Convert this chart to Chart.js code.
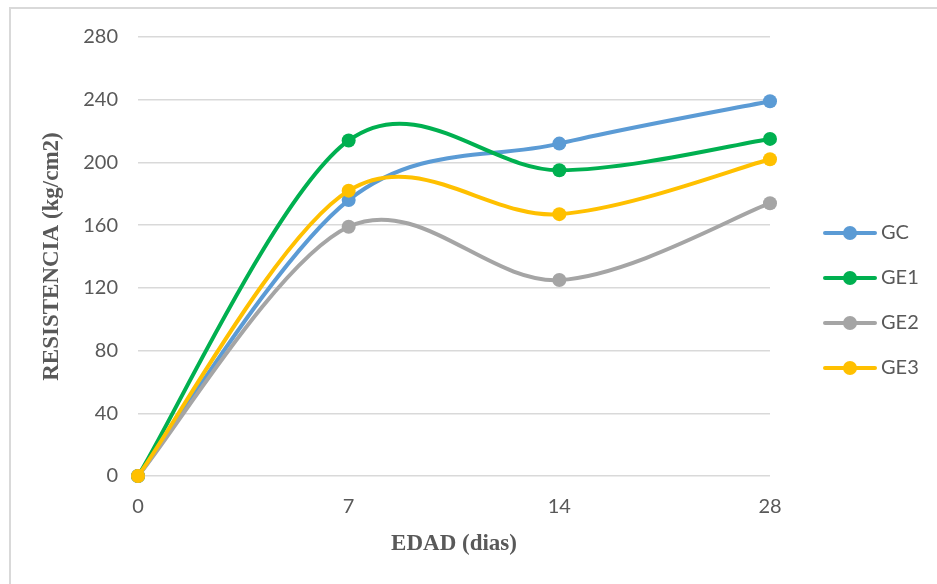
<!DOCTYPE html>
<html>
<head>
<meta charset="utf-8">
<script src="https://cdn.jsdelivr.net/npm/chart.js@4.4.1/dist/chart.umd.min.js"></script>
<style>
  html, body { margin: 0; padding: 0; background: #fff; overflow: hidden; }
  #wrap { position: relative; width: 937px; height: 584px; overflow: hidden; }
  #frame { position: absolute; left: 9px; top: 7px; width: 1000px; height: 1000px;
           border: 2px solid #d9d9d9; box-sizing: border-box; }
  canvas { position: absolute; left: 0; top: 0; }
</style>
</head>
<body>
<div id="wrap">
  <div id="frame"></div>
  <canvas id="chart" width="937" height="584"></canvas>
</div>
<script>
// Age of the specimens (days)
const ages = ['0', '7', '14', '28'];

// Compressive strength, kg/cm2
const gc  = [0, 176, 212, 239];
const ge1 = [0, 214, 195, 215];
const ge2 = [0, 159, 125, 174];
const ge3 = [0, 182, 167, 202];

const seriesNames = ['GC', 'GE1', 'GE2', 'GE3'];
const seriesColors = ['#5B9BD5', '#00B050', '#A5A5A5', '#FFC000'];

const TEXT = '#595959';
const TICK_FONT = { family: 'Lato', size: 20 };
const TITLE_FONT = { family: 'Liberation Serif', size: 23, weight: 'bold' };

// Legend spacing on the right-hand side
const LEG_PAD = 25, LEG_BOX = 76, PLOT_RIGHT = 770;

// Legend icon: short line with a round marker in the middle
function legendIcon(color) {
  const c = document.createElement('canvas');
  c.width = 88; c.height = 18;
  const g = c.getContext('2d');
  g.strokeStyle = color; g.lineWidth = 4; g.lineCap = 'round';
  g.beginPath(); g.moveTo(36, 9); g.lineTo(86, 9); g.stroke();
  g.fillStyle = color;
  g.beginPath(); g.arc(61, 9, 7, 0, Math.PI * 2); g.fill();
  return c;
}
const icons = seriesColors.map(legendIcon);

const mctx = document.createElement('canvas').getContext('2d');
mctx.font = TICK_FONT.size + 'px ' + TICK_FONT.family;
const textW = Math.max(...seriesNames.map(n => mctx.measureText(n).width));
const legendW = LEG_PAD + LEG_BOX + TICK_FONT.size / 2 + textW + 10;
const padRight = Math.max(0, 937 - PLOT_RIGHT - legendW);

// Catmull-Rom style smoothing (control points at one sixth of the neighbour span)
const smoothCurves = {
  id: 'smoothCurves',
  beforeDatasetsDraw(chart) {
    chart.getSortedVisibleDatasetMetas().forEach(meta => {
      const line = meta.dataset;
      if (!line) return;
      line.updateControlPoints(chart.chartArea, 'x');
      const pts = meta.data;
      pts.forEach((p, i) => {
        const prev = pts[i - 1] || p, next = pts[i + 1] || p;
        const dx = (next.x - prev.x) / 6, dy = (next.y - prev.y) / 6;
        p.cp1x = p.x - dx; p.cp1y = p.y - dy;
        p.cp2x = p.x + dx; p.cp2y = p.y + dy;
      });
    });
  }
};

const values = [gc, ge1, ge2, ge3];
const datasets = values.map((v, i) => ({
  label: seriesNames[i],
  data: v,
  borderColor: seriesColors[i],
  backgroundColor: seriesColors[i],
  borderWidth: 4,
  pointRadius: 7,
  pointHoverRadius: 7,
  pointBorderWidth: 0,
  tension: 0.4,
  clip: false,
  order: values.length - i
}));

new Chart(document.getElementById('chart'), {
  type: 'line',
  data: { labels: ages, datasets },
  plugins: [smoothCurves],
  options: {
    responsive: false,
    animation: false,
    events: [],
    layout: { padding: { top: 37, bottom: 20, left: 0, right: padRight } },
    plugins: {
      tooltip: { enabled: false },
      legend: {
        position: 'right',
        labels: {
          usePointStyle: true,
          pointStyleWidth: LEG_BOX,
          padding: LEG_PAD,
          color: TEXT,
          font: TICK_FONT,
          sort: (a, b) => a.datasetIndex - b.datasetIndex,
          generateLabels(chart) {
            const items = Chart.defaults.plugins.legend.labels.generateLabels(chart);
            items.forEach(it => { it.pointStyle = icons[it.datasetIndex]; });
            return items;
          }
        }
      }
    },
    scales: {
      x: {
        offset: false,
        grid: { display: false },
        border: { display: false },
        ticks: { color: TEXT, font: TICK_FONT, padding: 11, maxRotation: 0 },
        title: { display: true, text: 'EDAD (dias)', color: TEXT, font: TITLE_FONT,
                 padding: { top: 0, bottom: 6 } },
        afterFit(s) { s.height = 88; }
      },
      y: {
        min: 0, max: 280,
        grid: { color: '#d9d9d9', lineWidth: 1.5, drawTicks: false },
        border: { display: false },
        ticks: { stepSize: 40, color: TEXT, font: TICK_FONT, padding: 20 },
        title: { display: true, text: 'RESISTENCIA (kg/cm2)', color: TEXT, font: TITLE_FONT,
                 padding: { top: 38, bottom: 0 } },
        afterFit(s) { s.width = 138; }
      }
    }
  }
});
</script>
</body>
</html>
